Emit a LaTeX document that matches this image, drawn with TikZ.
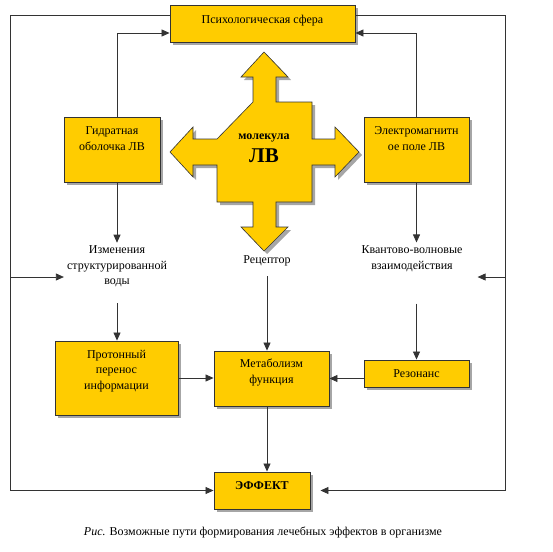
\documentclass[tikz,border=0pt]{standalone}
\usepackage{fontspec}
\setmainfont{Liberation Serif}
\usetikzlibrary{
    arrows.meta,
    shadows
}
\definecolor{boxyellow}{HTML}{FFCC00}
\definecolor{lineclr}{HTML}{333333}

\begin{document}
\begin{tikzpicture}[
        x=1pt, y=-1pt,
        every node/.style={
            font=\fontsize{12pt}{15.5pt}\selectfont
        },
        block/.style={
            rectangle,
            draw=lineclr,
            line width=0.9pt,
            fill=boxyellow,
            align=center,
            inner sep=2pt,
            drop shadow={shadow xshift=3pt, shadow yshift=-3pt,
                fill=black!35, opacity=1}
        },
        txt/.style={
            align=center,
            inner sep=3pt
        },
        arrow/.style={
            -{Triangle[length=8pt,width=7pt]},
            line width=0.8pt,
            draw=lineclr
        }
    ]

    \useasboundingbox (0,0) rectangle (553,551);

    \node[block, minimum width=185pt, minimum height=37pt, text depth=9pt] (psy) at (262.5,23.5)
        {Психологическая сфера};

    \node[block, minimum width=96pt, minimum height=65pt, text depth=22pt] (gid) at (112,149.5)
        {Гидратная\\оболочка ЛВ};

    \node[block, minimum width=105pt, minimum height=65pt, text depth=22pt] (ele) at (416.5,149.5)
        {Электромагнитн\\ое поле ЛВ};

    % molecule cross
    \draw[draw=lineclr, line width=0.6pt, fill=boxyellow,
          preaction={fill=black!35, transform canvas={xshift=3pt, yshift=-3pt}}]
        (253,102) -- (253,77) -- (241,77) -- (264,52) -- (288,77) -- (276,77)
        -- (276,102) -- (312,102) -- (312,139) -- (335,139) -- (335,127)
        -- (359,152) -- (335,177) -- (335,165) -- (312,165) -- (312,202)
        -- (276,202) -- (276,227) -- (288,227) -- (264,251) -- (241,227)
        -- (253,227) -- (253,202) -- (217,202) -- (217,165) -- (193,165)
        -- (193,177) -- (170,152) -- (193,127) -- (193,139) -- (217,139)
        -- cycle;

    \node[align=center, font=\fontsize{12pt}{15.5pt}\selectfont\bfseries] (mol) at (264,148)
        {молекула\\[6pt]{\fontsize{21pt}{23pt}\selectfont ЛВ}};

    \node[txt] (izm) at (117,266.5)
        {Изменения\\структурированной\\воды};

    \node[txt] (rec) at (267,261) {Рецептор};

    \node[txt] (kv) at (412,258.5)
        {Квантово-волновые\\взаимодействия};

    \node[block, minimum width=123pt, minimum height=74pt, text depth=17pt] (prot) at (116.5,378)
        {Протонный\\перенос\\информации};

    \node[block, minimum width=115pt, minimum height=55pt, text depth=15pt] (met) at (271.5,378.5)
        {Метаболизм\\функция};

    \node[block, minimum width=105pt, minimum height=27pt] (res) at (416.5,373.5)
        {Резонанс};

    \node[block, minimum width=96pt, minimum height=37pt, text depth=9pt,
          font=\fontsize{12pt}{15.5pt}\selectfont\bfseries] (eff) at (262,490.5)
        {ЭФФЕКТ};

    \node (cap) at (263,532)
        {\textit{Рис.} Возможные пути формирования лечебных эффектов в организме};

    \coordinate (lbr) at (11,277);
    \coordinate (rbr) at (505,277);

    \draw[arrow] ([xshift=5pt]gid.north) |- ([yshift=-9.5pt]psy.west);
    \draw[arrow] (ele.north) |- ([yshift=-9.5pt]psy.east);
    \draw[arrow] ([yshift=8.5pt]psy.west) -- ++(-159,0) |- (eff.west);
    \draw[arrow] ([yshift=8.5pt]psy.east) -- ++(150,0) |- ([xshift=10pt]eff.east);
    \draw[arrow] (lbr) -- (lbr -| izm.west);
    \draw[arrow, shorten >=12pt] (rbr) -- (rbr -| kv.east);

    \draw[arrow] ([xshift=5pt]gid.south) -- (izm.north);
    \draw[arrow] (ele.south) -- (ele.south |- kv.north);
    \draw[arrow, shorten <=13pt] (izm.south) -- (izm.south |- prot.north);
    \draw[arrow, shorten <=29pt] (ele.south |- kv.south) -- (ele.south |- res.north);
    \draw[arrow, shorten <=7pt] (rec.south) -- (rec.south |- met.north);

    \draw[arrow] (prot.east) -- (prot.east -| met.west);
    \draw[arrow] (res.west |- met.east) -- (met.east);
    \draw[arrow] (rec.south |- met.south) -- (rec.south |- eff.north);

\end{tikzpicture}
\end{document}
